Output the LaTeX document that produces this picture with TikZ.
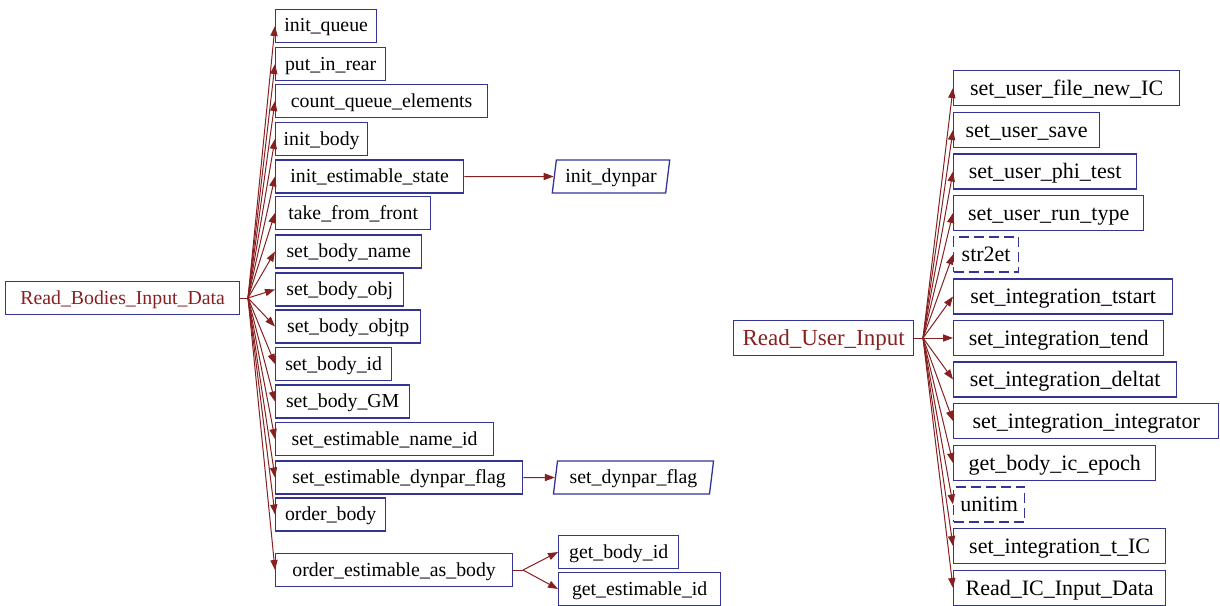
\documentclass[tikz,border=0pt]{standalone}
\usepackage{fontspec}
\setmainfont{Liberation Serif}
\usetikzlibrary{arrows.meta,shapes.geometric}
\definecolor{edgered}{RGB}{135,32,32}
\definecolor{boxblue}{RGB}{52,52,150}
\tikzset{
  fn/.style={draw=boxblue,line width=0.65pt,inner sep=0pt,minimum height=16.5pt,
    text height=7pt,text depth=1pt,font=\fontsize{9.9}{12}\selectfont,anchor=west},
  fnr/.style={fn,minimum height=17.5pt,text height=8pt,text depth=1pt,
    font=\fontsize{11}{13}\selectfont},
  root/.style={text=edgered},
  ext/.style={dash pattern=on 5pt off 2.5pt},
  para/.style={fn,trapezium,trapezium left angle=78,trapezium right angle=102,
    trapezium stretches=true,anchor=center},
  call/.style={draw=edgered,line width=0.5pt,-{Triangle[length=5pt,width=3.6pt]}},
  stem/.style={draw=edgered,line width=0.5pt}
}
\begin{document}
\begin{tikzpicture}[x=0.5pt,y=-0.5pt]
  \useasboundingbox (0,0) rectangle (1220,605);
  % left call graph
  \node[fn,root,minimum width=117pt] (rbid) at (5,298) {Read\_Bodies\_Input\_Data};
  \coordinate (rbfan) at (248,298);
  \draw[stem] (rbid.east) -- (rbfan);
  \foreach \nm/\y/\w/\t in {iq/26/101/init\_queue, pir/64/110/put\_in\_rear,
      cqe/101/212/count\_queue\_elements, ib/139/92/init\_body,
      ies/176.5/188/init\_estimable\_state, tff/213/155/take\_from\_front,
      sbn/251.5/146/set\_body\_name, sbo/289.5/128/set\_body\_obj,
      sbt/326.5/145/set\_body\_objtp, sbi/364/116/set\_body\_id,
      sbg/401.5/134/set\_body\_GM, seni/439/218/set\_estimable\_name\_id,
      sedf/477.5/247/set\_estimable\_dynpar\_flag, ob/514.5/110/order\_body,
      oeab/570/237/order\_estimable\_as\_body}{
    \node[fn,minimum width=\w*0.5pt] (\nm) at (275,\y) {\t};
    \draw[call] (rbfan) -- (\nm.west);
  }
  \node[para,minimum width=59pt] (idp) at (611,176.5) {init\_dynpar};
  \draw[call] (ies.east) -- (idp);
  \node[para,minimum width=80.5pt] (sdf) at (633.5,477.5) {set\_dynpar\_flag};
  \draw[call] (sedf.east) -- (sdf);
  \node[fn,minimum width=60pt] (gbi) at (558,552) {get\_body\_id};
  \node[fn,minimum width=81pt] (gei) at (558,589) {get\_estimable\_id};
  \coordinate (oefan) at (523,570);
  \draw[stem] (oeab.east) -- (oefan);
  \draw[call] (oefan) -- (gbi.west);
  \draw[call] (oefan) -- (gei.west);
  % right call graph
  \node[fnr,root,minimum width=90pt,font=\fontsize{11.5}{14}\selectfont] (ruin) at (733,338) {Read\_User\_Input};
  \coordinate (rufan) at (923,338);
  \draw[stem] (ruin.east) -- (rufan);
  \foreach \nm/\y/\w/\t/\s in {sufn/88/226/set\_user\_file\_new\_IC/solid,
      sus/130/146/set\_user\_save/solid, sup/171.5/183/set\_user\_phi\_test/solid,
      surt/213/190/set\_user\_run\_type/solid, stet/254.5/65/str2et/ext,
      sits/296.5/219/set\_integration\_tstart/solid,
      site/338/210/set\_integration\_tend/solid,
      sid/379.5/223/set\_integration\_deltat/solid,
      sii/421/265/set\_integration\_integrator/solid,
      gbie/463/202/get\_body\_ic\_epoch/solid, utim/504.5/71/unitim/ext,
      sitic/546/212/set\_integration\_t\_IC/solid,
      ricd/588/212/Read\_IC\_Input\_Data/solid}{
    \node[fnr,\s,minimum width=\w*0.5pt] (\nm) at (953,\y) {\t};
    \draw[call] (rufan) -- (\nm.west);
  }
\end{tikzpicture}
\end{document}
